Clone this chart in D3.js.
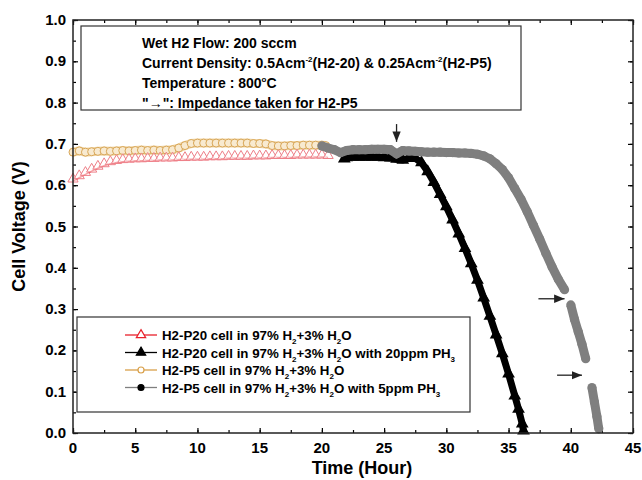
<!DOCTYPE html>
<html>
<head>
<meta charset="utf-8">
<script src="https://cdn.jsdelivr.net/npm/d3@7"></script>
<style>
  body { margin: 0; background: #fff; }
  text { font-family: "Liberation Sans", Arial, sans-serif; font-weight: bold; }
</style>
</head>
<body>
<div id="chart"></div>
<script>
// H2-P20 cell, 97%H2+3%H2O  [hour, volt]
let p20Clean = [[0,0.610],[0.5,0.618],[1,0.626],[1.5,0.634],[2,0.641],[2.5,0.647],[3,0.652],[3.5,0.655],[4,0.657],[4.5,0.658],
  [5,0.659],[5.5,0.659],[6,0.660],[6.5,0.660],[7,0.661],[7.5,0.661],[8,0.661],[8.5,0.662],[9,0.662],[9.5,0.663],
  [10,0.663],[10.5,0.663],[11,0.664],[11.5,0.664],[12,0.664],[12.5,0.665],[13,0.665],[13.5,0.665],[14,0.665],[14.5,0.666],
  [15,0.666],[15.5,0.666],[16,0.667],[16.5,0.667],[17,0.667],[17.5,0.667],[18,0.668],[18.5,0.668],[19,0.668],[19.5,0.668],
  [20,0.668],[20.5,0.667]];
// H2-P20 cell with 20ppm PH3
let p20PH3 = [[21.8,0.664],[22,0.667],[22.5,0.668],[23,0.668],[23.5,0.668],[24,0.668],[24.5,0.668],[25,0.667],[25.5,0.666],
  [26,0.663],[26.5,0.661],[27,0.665],[27.5,0.665],[28,0.655],[28.5,0.633],[29,0.607],[29.5,0.578],[30,0.548],[30.5,0.516],
  [31,0.482],[31.5,0.447],[32,0.410],[32.5,0.370],[33,0.327],[33.5,0.283],[34,0.238],[34.5,0.192],[35,0.143],[35.5,0.090],
  [35.8,0.058],[36.1,0.022],[36.2,0.005]];
// H2-P5 cell, 97%H2+3%H2O
let p5Clean = [[0,0.680],[0.5,0.683],[1,0.680],[1.5,0.681],[2,0.682],[2.5,0.683],[3,0.682],[3.5,0.683],[4,0.684],[4.5,0.683],
  [5,0.684],[5.5,0.685],[6,0.684],[6.5,0.685],[7,0.684],[7.5,0.685],[8,0.686],[8.5,0.690],[9,0.696],[9.5,0.701],
  [10,0.702],[10.5,0.702],[11,0.702],[11.5,0.702],[12,0.702],[12.5,0.702],[13,0.702],[13.5,0.702],[14,0.702],[14.5,0.701],
  [15,0.701],[15.5,0.700],[16,0.696],[16.5,0.695],[17,0.695],[17.5,0.696],[18,0.696],[18.5,0.697],[19,0.697],[19.5,0.697],
  [20,0.697],[20.3,0.696]];
// H2-P5 cell with 5ppm PH3, three pieces (impedance breaks)
let p5PH3 = [
  [[20,0.695],[20.5,0.690],[21,0.686],[21.5,0.679],[22,0.684],[22.5,0.686],[23,0.686],[23.5,0.686],[24,0.687],[24.5,0.687],
   [25,0.687],[25.5,0.686],[26,0.676],[26.5,0.684],[27,0.683],[27.5,0.682],[28,0.681],[28.5,0.680],[29,0.680],[29.5,0.680],
   [30,0.679],[30.5,0.679],[31,0.678],[31.5,0.678],[32,0.677],[32.5,0.675],[33,0.671],[33.5,0.664],[34,0.652],[34.5,0.638],
   [35,0.618],[35.5,0.592],[36,0.566],[36.5,0.536],[37,0.503],[37.5,0.470],[38,0.435],[38.5,0.402],[39,0.372],[39.5,0.347]],
  [[40,0.310],[40.3,0.275],[40.6,0.245],[40.9,0.215],[41.2,0.180]],
  [[41.7,0.110],[41.9,0.075],[42.1,0.040],[42.25,0.010]]
];
// impedance arrows [x1, y1, x2, y2] in data units
let arrows = [[26,0.748,26,0.705],[37.4,0.325,39.5,0.325],[38.9,0.140,40.9,0.140]];

let notes = ['Wet H2 Flow: 200 sccm', 'Current Density: 0.5Acm|-2|(H2-20) & 0.25Acm|-2|(H2-P5)',
  'Temperature : 800|o|C', '"\u2192": Impedance taken for H2-P5'];
let legendNames = [
  ['H2-P20 cell in 97% H', '2', '+3% H', '2', 'O', ''],
  ['H2-P20 cell in 97% H', '2', '+3% H', '2', 'O with 20ppm PH', '3'],
  ['H2-P5 cell in 97% H', '2', '+3% H', '2', 'O', ''],
  ['H2-P5 cell in 97% H', '2', '+3% H', '2', 'O with 5ppm PH', '3']
];
let xTicks = [0, 5, 10, 15, 20, 25, 30, 35, 40, 45];
let yTicks = [0, 0.1, 0.2, 0.3, 0.4, 0.5, 0.6, 0.7, 0.8, 0.9, 1.0];

let W = 642, H = 480;
let m = {left: 73, top: 20, right: 9, bottom: 47};
let gW = W - m.left - m.right, gH = H - m.top - m.bottom;

let svg = d3.select('#chart').append('svg').attr('width', W).attr('height', H);
let g = svg.append('g').attr('transform', 'translate(' + m.left + ',' + m.top + ')');

let xScale = d3.scaleLinear().domain([0, 45]).range([0, gW]);
let yScale = d3.scaleLinear().domain([0, 1]).range([gH, 0]);

//刻度，朝内，四边都有
let minorX = d3.range(0, 45.01, 2.5), minorY = d3.range(0, 1.001, 0.05);
function ticks(axisGen, scale, vals, len, tr) {
  let a = g.append('g').attr('transform', tr)
    .call(axisGen(scale).tickValues(vals).tickSize(len).tickFormat(''));
  a.select('.domain').remove();
  a.selectAll('line').attr('stroke', '#000').attr('stroke-width', 1.2);
}
ticks(d3.axisTop, xScale, minorX, 3, 'translate(0,' + gH + ')');
ticks(d3.axisTop, xScale, xTicks, 5, 'translate(0,' + gH + ')');
ticks(d3.axisBottom, xScale, minorX, 3, 'translate(0,0)');
ticks(d3.axisBottom, xScale, xTicks, 5, 'translate(0,0)');
ticks(d3.axisRight, yScale, minorY, 3, 'translate(0,0)');
ticks(d3.axisRight, yScale, yTicks, 5, 'translate(0,0)');
ticks(d3.axisLeft, yScale, minorY, 3, 'translate(' + gW + ',0)');
ticks(d3.axisLeft, yScale, yTicks, 5, 'translate(' + gW + ',0)');

//刻度文字
g.selectAll('text.xt').data(xTicks).enter().append('text')
  .attr('x', d => xScale(d)).attr('y', gH + 20).attr('text-anchor', 'middle')
  .attr('font-size', 15).text(d => d);
g.selectAll('text.yt').data(yTicks).enter().append('text')
  .attr('x', -7).attr('y', d => yScale(d) + 5).attr('text-anchor', 'end')
  .attr('font-size', 15).text(d => d.toFixed(1));

//坐标轴标题
svg.append('text').attr('x', 362).attr('y', 474).attr('text-anchor', 'middle')
  .attr('font-size', 18).text('Time (Hour)');
svg.append('text').attr('transform', 'translate(25,' + (m.top + gH / 2) + ') rotate(-90)')
  .attr('text-anchor', 'middle').attr('font-size', 18).text('Cell Voltage (V)');

let line = d3.line().x(d => xScale(d[0])).y(d => yScale(d[1]));
let tri = d3.symbol().type(d3.symbolTriangle);

// H2-P5 clean: tan band of open circles
g.append('path').attr('d', line(p5Clean)).attr('fill', 'none')
  .attr('stroke', '#f1d6a6').attr('stroke-width', 9);
g.append('path').attr('d', line(p5Clean)).attr('fill', 'none')
  .attr('stroke', '#d9a04a').attr('stroke-width', 1);
g.selectAll('circle.p5c').data(p5Clean).enter().append('circle')
  .attr('cx', d => xScale(d[0])).attr('cy', d => yScale(d[1])).attr('r', 4)
  .attr('fill', '#f8ead0').attr('stroke', '#d8a656').attr('stroke-width', 1);

// H2-P20 clean: red line + open triangles
g.append('path').attr('d', line(p20Clean)).attr('fill', 'none')
  .attr('stroke', '#e8202a').attr('stroke-width', 1.5);
g.selectAll('path.p20c').data(p20Clean).enter().append('path')
  .attr('d', tri.size(45)())
  .attr('transform', d => 'translate(' + xScale(d[0]) + ',' + (yScale(d[1]) - 2) + ')')
  .attr('fill', '#fff').attr('fill-opacity', 0.6).attr('stroke', '#ee7f88').attr('stroke-width', 1);

// H2-P20 with PH3: black filled triangles
g.append('path').attr('d', line(p20PH3)).attr('fill', 'none')
  .attr('stroke', '#000').attr('stroke-width', 7);
g.selectAll('path.p20p').data(p20PH3).enter().append('path')
  .attr('d', tri.size(70)())
  .attr('transform', d => 'translate(' + xScale(d[0]) + ',' + yScale(d[1]) + ')')
  .attr('fill', '#000');

// H2-P5 with PH3: grey filled circles
p5PH3.forEach(seg => {
  g.append('path').attr('d', line(seg)).attr('fill', 'none')
    .attr('stroke', '#7f7f7f').attr('stroke-width', 9);
  g.selectAll(null).data(seg).enter().append('circle')
    .attr('cx', d => xScale(d[0])).attr('cy', d => yScale(d[1])).attr('r', 4.6)
    .attr('fill', '#7f7f7f');
});

//箭头
svg.append('defs').append('marker').attr('id', 'ah')
  .attr('viewBox', '0 0 10 10').attr('refX', 10).attr('refY', 5)
  .attr('markerWidth', 8).attr('markerHeight', 8).attr('orient', 'auto')
  .append('path').attr('d', 'M0,1 L10,5 L0,9 Z').attr('fill', '#222');
g.selectAll('line.arr').data(arrows).enter().append('line')
  .attr('x1', d => xScale(d[0])).attr('y1', d => yScale(d[1]))
  .attr('x2', d => xScale(d[2])).attr('y2', d => yScale(d[3]))
  .attr('stroke', '#222').attr('stroke-width', 1.3).attr('marker-end', 'url(#ah)');

//说明框
svg.append('rect').attr('x', 81).attr('y', 26).attr('width', 440).attr('height', 84)
  .attr('fill', '#fff').attr('stroke', '#333').attr('stroke-width', 1.2);
notes.forEach((s, i) => {
  let t = svg.append('text').attr('x', 142).attr('y', 48 + i * 20).attr('font-size', 14);
  s.split('|').forEach((part, j) => {
    let sp = t.append('tspan').text(part);
    if (j % 2 === 1) sp.attr('font-size', 8).attr('dy', -6);
    else if (j > 0) sp.attr('dy', 6);
  });
});

//图例
let legStyle = [
  {line: '#e8202a', shape: 'tri', fill: '#fff', stroke: '#e8202a'},
  {line: '#000', shape: 'tri', fill: '#000', stroke: '#000'},
  {line: '#d9a04a', shape: 'circle', fill: '#fff', stroke: '#d9a04a'},
  {line: '#7f7f7f', shape: 'circle', fill: '#000', stroke: '#000'}
];
svg.append('rect').attr('x', 77).attr('y', 317).attr('width', 393).attr('height', 95)
  .attr('fill', '#fff').attr('stroke', '#333').attr('stroke-width', 1.2);
legendNames.forEach((parts, i) => {
  let y = 335 + i * 17.5, st = legStyle[i];
  svg.append('line').attr('x1', 125).attr('x2', 157).attr('y1', y).attr('y2', y)
    .attr('stroke', st.line).attr('stroke-width', 1.3);
  if (st.shape === 'tri') {
    svg.append('path').attr('d', tri.size(38)()).attr('transform', 'translate(141,' + y + ')')
      .attr('fill', st.fill).attr('stroke', st.stroke).attr('stroke-width', 1.2);
  } else {
    svg.append('circle').attr('cx', 141).attr('cy', y).attr('r', 3)
      .attr('fill', st.fill).attr('stroke', st.stroke).attr('stroke-width', 1.2);
  }
  let t = svg.append('text').attr('x', 162).attr('y', y + 5).attr('font-size', 13.3);
  parts.forEach((p, j) => {
    if (p === '') return;
    let sp = t.append('tspan').text(p);
    if (j % 2 === 1) sp.attr('font-size', 8).attr('dy', 4);
    else if (j > 0) sp.attr('dy', -4);
  });
});

//外框
g.append('rect').attr('width', gW).attr('height', gH)
  .attr('fill', 'none').attr('stroke', '#222').attr('stroke-width', 1.5);
</script>
</body>
</html>
